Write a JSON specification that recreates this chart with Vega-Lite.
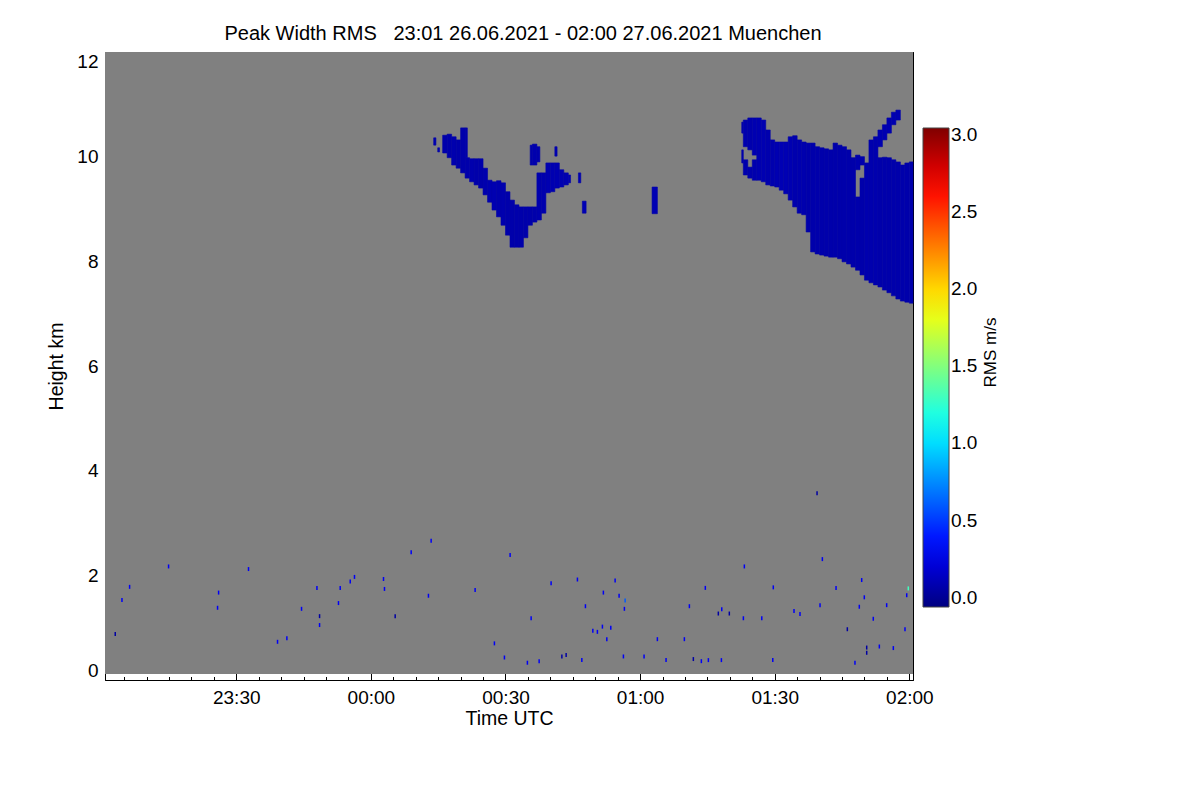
{
  "$schema": "https://vega.github.io/schema/vega-lite/v6.json",
  "autosize": "none",
  "padding": {"left": 105, "top": 52, "right": 287, "bottom": 120},
  "width": 808,
  "height": 628,
  "background": "white",
  "title": {
    "text": "Peak Width RMS\u00a0\u00a0\u00a023:01 26.06.2021 - 02:00 27.06.2021 Muenchen",
    "font": "Liberation Sans",
    "fontSize": 20,
    "fontWeight": "normal",
    "color": "black",
    "anchor": "middle",
    "offset": 8,
    "dx": 14
  },
  "config": {
    "font": "Liberation Sans",
    "view": {"stroke": null},
    "axis": {
      "grid": false,
      "domain": false,
      "domainColor": "black",
      "tickColor": "black",
      "labelFont": "Liberation Sans",
      "labelFontSize": 19,
      "labelColor": "black",
      "titleFont": "Liberation Sans",
      "titleFontSize": 19.5,
      "titleFontWeight": "normal",
      "titleColor": "black",
      "zindex": 1
    }
  },
  "layer": [
    {
      "data": {"values": [
        {"start": "2021-06-26T23:00:45Z", "end": "2021-06-27T02:00:49Z", "bottom": 0.115, "top": 12}
      ]},
      "mark": {"type": "rect", "color": "#808080"},
      "encoding": {
        "x": {
          "field": "start", "type": "temporal",
          "scale": {"type": "utc", "nice": false, "domain": [1624748445000, 1624759249000]},
          "axis": {
            "orient": "bottom",
            "title": "Time UTC",
            "domain": true,
            "values": [1624750200000, 1624752000000, 1624753800000, 1624755600000, 1624757400000, 1624759200000],
            "format": "%H:%M",
            "tickSize": -7,
            "labelPadding": 15,
            "titlePadding": 2
          }
        },
        "x2": {"field": "end"},
        "y": {
          "field": "bottom", "type": "quantitative",
          "scale": {"domain": [0, 12], "nice": false, "zero": false},
          "axis": {
            "orient": "left",
            "title": "Height km",
            "domain": true,
            "values": [0, 2, 4, 6, 8, 10, 12],
            "format": ".0f",
            "tickSize": -7,
            "labelFlush": true,
            "labelPadding": 14,
            "titlePadding": 10
          }
        },
        "y2": {"field": "top"}
      }
    },
    {
      "data": {"values": [
        {"start": "2021-06-27T00:14:00Z", "end": "2021-06-27T00:14:30Z", "bottom": 10.22, "top": 10.36, "rms": 0.09},
        {"start": "2021-06-27T00:14:54Z", "end": "2021-06-27T00:15:18Z", "bottom": 10.09, "top": 10.17, "rms": 0.09},
        {"start": "2021-06-27T00:16:00Z", "end": "2021-06-27T00:17:00Z", "bottom": 10.07, "top": 10.41, "rms": 0.07},
        {"start": "2021-06-27T00:17:00Z", "end": "2021-06-27T00:18:00Z", "bottom": 9.98, "top": 10.43, "rms": 0.07},
        {"start": "2021-06-27T00:18:00Z", "end": "2021-06-27T00:19:00Z", "bottom": 9.84, "top": 10.38, "rms": 0.08},
        {"start": "2021-06-27T00:19:00Z", "end": "2021-06-27T00:20:00Z", "bottom": 9.78, "top": 10.32, "rms": 0.07},
        {"start": "2021-06-27T00:20:00Z", "end": "2021-06-27T00:21:00Z", "bottom": 9.69, "top": 10.55, "rms": 0.07},
        {"start": "2021-06-27T00:21:00Z", "end": "2021-06-27T00:21:30Z", "bottom": 9.98, "top": 10.55, "rms": 0.07},
        {"start": "2021-06-27T00:21:00Z", "end": "2021-06-27T00:22:00Z", "bottom": 9.59, "top": 9.98, "rms": 0.07},
        {"start": "2021-06-27T00:22:00Z", "end": "2021-06-27T00:23:00Z", "bottom": 9.52, "top": 9.96, "rms": 0.08},
        {"start": "2021-06-27T00:23:00Z", "end": "2021-06-27T00:24:00Z", "bottom": 9.46, "top": 9.96, "rms": 0.07},
        {"start": "2021-06-27T00:24:00Z", "end": "2021-06-27T00:25:00Z", "bottom": 9.40, "top": 9.96, "rms": 0.07},
        {"start": "2021-06-27T00:25:00Z", "end": "2021-06-27T00:26:00Z", "bottom": 9.27, "top": 9.78, "rms": 0.08},
        {"start": "2021-06-27T00:26:00Z", "end": "2021-06-27T00:27:00Z", "bottom": 9.13, "top": 9.55, "rms": 0.09},
        {"start": "2021-06-27T00:27:00Z", "end": "2021-06-27T00:28:00Z", "bottom": 8.98, "top": 9.52, "rms": 0.09},
        {"start": "2021-06-27T00:28:00Z", "end": "2021-06-27T00:29:00Z", "bottom": 8.85, "top": 9.54, "rms": 0.08},
        {"start": "2021-06-27T00:29:00Z", "end": "2021-06-27T00:30:00Z", "bottom": 8.69, "top": 9.50, "rms": 0.08},
        {"start": "2021-06-27T00:30:00Z", "end": "2021-06-27T00:31:00Z", "bottom": 8.50, "top": 9.33, "rms": 0.07},
        {"start": "2021-06-27T00:31:00Z", "end": "2021-06-27T00:32:00Z", "bottom": 8.27, "top": 9.17, "rms": 0.07},
        {"start": "2021-06-27T00:32:00Z", "end": "2021-06-27T00:33:00Z", "bottom": 8.27, "top": 9.08, "rms": 0.07},
        {"start": "2021-06-27T00:33:00Z", "end": "2021-06-27T00:34:00Z", "bottom": 8.27, "top": 9.04, "rms": 0.07},
        {"start": "2021-06-27T00:34:00Z", "end": "2021-06-27T00:35:00Z", "bottom": 8.45, "top": 9.04, "rms": 0.07},
        {"start": "2021-06-27T00:35:00Z", "end": "2021-06-27T00:36:00Z", "bottom": 8.69, "top": 9.04, "rms": 0.07},
        {"start": "2021-06-27T00:35:30Z", "end": "2021-06-27T00:36:00Z", "bottom": 9.84, "top": 10.22, "rms": 0.08},
        {"start": "2021-06-27T00:36:00Z", "end": "2021-06-27T00:37:00Z", "bottom": 8.75, "top": 9.04, "rms": 0.07},
        {"start": "2021-06-27T00:36:00Z", "end": "2021-06-27T00:37:00Z", "bottom": 9.84, "top": 10.24, "rms": 0.08},
        {"start": "2021-06-27T00:37:00Z", "end": "2021-06-27T00:38:00Z", "bottom": 8.79, "top": 9.69, "rms": 0.08},
        {"start": "2021-06-27T00:37:00Z", "end": "2021-06-27T00:37:40Z", "bottom": 9.90, "top": 10.19, "rms": 0.08},
        {"start": "2021-06-27T00:38:00Z", "end": "2021-06-27T00:39:00Z", "bottom": 8.92, "top": 9.69, "rms": 0.08},
        {"start": "2021-06-27T00:39:00Z", "end": "2021-06-27T00:40:00Z", "bottom": 9.31, "top": 9.88, "rms": 0.09},
        {"start": "2021-06-27T00:40:00Z", "end": "2021-06-27T00:41:00Z", "bottom": 9.33, "top": 9.88, "rms": 0.09},
        {"start": "2021-06-27T00:41:00Z", "end": "2021-06-27T00:42:00Z", "bottom": 9.40, "top": 9.88, "rms": 0.09},
        {"start": "2021-06-27T00:41:00Z", "end": "2021-06-27T00:41:30Z", "bottom": 10.01, "top": 10.19, "rms": 0.09},
        {"start": "2021-06-27T00:42:00Z", "end": "2021-06-27T00:43:00Z", "bottom": 9.42, "top": 9.75, "rms": 0.09},
        {"start": "2021-06-27T00:43:00Z", "end": "2021-06-27T00:44:00Z", "bottom": 9.46, "top": 9.69, "rms": 0.09},
        {"start": "2021-06-27T00:44:00Z", "end": "2021-06-27T00:44:30Z", "bottom": 9.50, "top": 9.65, "rms": 0.09},
        {"start": "2021-06-27T00:46:15Z", "end": "2021-06-27T00:46:47Z", "bottom": 9.50, "top": 9.69, "rms": 0.1},
        {"start": "2021-06-27T00:47:08Z", "end": "2021-06-27T00:47:58Z", "bottom": 8.92, "top": 9.15, "rms": 0.1},
        {"start": "2021-06-27T01:02:40Z", "end": "2021-06-27T01:03:51Z", "bottom": 8.91, "top": 9.42, "rms": 0.1}
      ]},
      "mark": {"type": "rect", "stroke": "#0000aa", "strokeWidth": 0.6},
      "encoding": {
        "x": {
          "field": "start", "type": "temporal",
          "axis": {"orient": "top", "title": null, "labels": false, "domain": true,
                   "values": [1624750200000, 1624752000000, 1624753800000, 1624755600000, 1624757400000, 1624759200000],
                   "tickSize": -7}
        },
        "x2": {"field": "end"},
        "y": {
          "field": "bottom", "type": "quantitative",
          "axis": {"orient": "right", "title": "RMS m/s", "labels": false, "domain": true,
                   "values": [0, 2, 4, 6, 8, 10, 12], "tickSize": -7,
                   "titleAngle": 270, "titleBaseline": "top", "titleFontSize": 17,
                   "titlePadding": 69, "titleY": 300}
        },
        "y2": {"field": "top"},
        "color": {
          "field": "rms", "type": "quantitative",
          "scale": {
            "type": "linear",
            "domain": [-0.06, 3.045],
            "range": ["#000080", "#0000ff", "#0080ff", "#00ffff", "#80ff80", "#ffff00", "#ff8000", "#ff0000", "#800000"],
            "interpolate": "rgb",
            "clamp": true
          },
          "legend": {
            "orient": "none",
            "legendX": 818,
            "legendY": 76,
            "direction": "vertical",
            "gradientLength": 479,
            "gradientThickness": 26,
            "gradientStrokeColor": "#444444",
            "gradientStrokeWidth": 1,
            "values": [0, 0.5, 1, 1.5, 2, 2.5, 3],
            "format": ".1f",
            "labelFont": "Liberation Sans",
            "labelFontSize": 19,
            "labelColor": "black",
            "title": null
          }
        }
      }
    },
    {
      "data": {"values": [
        {"start": "2021-06-27T01:22:39Z", "end": "2021-06-27T01:23:00Z", "bottom": 10.45, "top": 10.66, "rms": 0.08},
        {"start": "2021-06-27T01:22:39Z", "end": "2021-06-27T01:23:00Z", "bottom": 9.88, "top": 10.13, "rms": 0.08},
        {"start": "2021-06-27T01:23:00Z", "end": "2021-06-27T01:24:00Z", "bottom": 10.19, "top": 10.70, "rms": 0.08},
        {"start": "2021-06-27T01:23:00Z", "end": "2021-06-27T01:24:00Z", "bottom": 9.65, "top": 9.94, "rms": 0.08},
        {"start": "2021-06-27T01:24:00Z", "end": "2021-06-27T01:25:00Z", "bottom": 10.13, "top": 10.74, "rms": 0.08},
        {"start": "2021-06-27T01:24:00Z", "end": "2021-06-27T01:25:00Z", "bottom": 9.59, "top": 9.80, "rms": 0.08},
        {"start": "2021-06-27T01:25:00Z", "end": "2021-06-27T01:26:00Z", "bottom": 10.03, "top": 10.74, "rms": 0.09},
        {"start": "2021-06-27T01:25:00Z", "end": "2021-06-27T01:26:00Z", "bottom": 9.55, "top": 9.94, "rms": 0.08},
        {"start": "2021-06-27T01:26:00Z", "end": "2021-06-27T01:27:00Z", "bottom": 9.55, "top": 10.74, "rms": 0.09},
        {"start": "2021-06-27T01:27:00Z", "end": "2021-06-27T01:28:00Z", "bottom": 9.52, "top": 10.70, "rms": 0.09},
        {"start": "2021-06-27T01:28:00Z", "end": "2021-06-27T01:29:00Z", "bottom": 9.46, "top": 10.51, "rms": 0.08},
        {"start": "2021-06-27T01:29:00Z", "end": "2021-06-27T01:30:00Z", "bottom": 9.44, "top": 10.32, "rms": 0.08},
        {"start": "2021-06-27T01:30:00Z", "end": "2021-06-27T01:31:00Z", "bottom": 9.42, "top": 10.28, "rms": 0.09},
        {"start": "2021-06-27T01:31:00Z", "end": "2021-06-27T01:32:00Z", "bottom": 9.36, "top": 10.28, "rms": 0.1},
        {"start": "2021-06-27T01:32:00Z", "end": "2021-06-27T01:33:00Z", "bottom": 9.29, "top": 10.28, "rms": 0.1},
        {"start": "2021-06-27T01:33:00Z", "end": "2021-06-27T01:34:00Z", "bottom": 9.17, "top": 10.38, "rms": 0.09},
        {"start": "2021-06-27T01:34:00Z", "end": "2021-06-27T01:35:00Z", "bottom": 9.04, "top": 10.40, "rms": 0.08},
        {"start": "2021-06-27T01:35:00Z", "end": "2021-06-27T01:36:00Z", "bottom": 8.92, "top": 10.32, "rms": 0.08},
        {"start": "2021-06-27T01:36:00Z", "end": "2021-06-27T01:37:00Z", "bottom": 8.89, "top": 10.28, "rms": 0.08},
        {"start": "2021-06-27T01:37:00Z", "end": "2021-06-27T01:38:00Z", "bottom": 8.56, "top": 10.26, "rms": 0.07},
        {"start": "2021-06-27T01:38:00Z", "end": "2021-06-27T01:39:00Z", "bottom": 8.18, "top": 10.26, "rms": 0.07},
        {"start": "2021-06-27T01:39:00Z", "end": "2021-06-27T01:40:00Z", "bottom": 8.14, "top": 10.19, "rms": 0.07},
        {"start": "2021-06-27T01:40:00Z", "end": "2021-06-27T01:41:00Z", "bottom": 8.12, "top": 10.17, "rms": 0.07},
        {"start": "2021-06-27T01:41:00Z", "end": "2021-06-27T01:42:00Z", "bottom": 8.10, "top": 10.15, "rms": 0.07},
        {"start": "2021-06-27T01:42:00Z", "end": "2021-06-27T01:43:00Z", "bottom": 8.08, "top": 10.13, "rms": 0.07},
        {"start": "2021-06-27T01:43:00Z", "end": "2021-06-27T01:44:00Z", "bottom": 8.08, "top": 10.26, "rms": 0.07},
        {"start": "2021-06-27T01:44:00Z", "end": "2021-06-27T01:45:00Z", "bottom": 8.05, "top": 10.22, "rms": 0.07},
        {"start": "2021-06-27T01:45:00Z", "end": "2021-06-27T01:46:00Z", "bottom": 7.99, "top": 10.19, "rms": 0.07},
        {"start": "2021-06-27T01:46:00Z", "end": "2021-06-27T01:47:00Z", "bottom": 7.95, "top": 10.13, "rms": 0.07},
        {"start": "2021-06-27T01:47:00Z", "end": "2021-06-27T01:48:00Z", "bottom": 7.89, "top": 9.98, "rms": 0.07},
        {"start": "2021-06-27T01:48:00Z", "end": "2021-06-27T01:49:00Z", "bottom": 9.75, "top": 10.03, "rms": 0.08},
        {"start": "2021-06-27T01:48:00Z", "end": "2021-06-27T01:49:00Z", "bottom": 7.83, "top": 9.23, "rms": 0.07},
        {"start": "2021-06-27T01:49:00Z", "end": "2021-06-27T01:50:00Z", "bottom": 9.84, "top": 10.00, "rms": 0.08},
        {"start": "2021-06-27T01:49:00Z", "end": "2021-06-27T01:50:00Z", "bottom": 7.74, "top": 9.59, "rms": 0.07},
        {"start": "2021-06-27T01:50:00Z", "end": "2021-06-27T01:51:00Z", "bottom": 7.64, "top": 9.88, "rms": 0.08},
        {"start": "2021-06-27T01:51:00Z", "end": "2021-06-27T01:52:00Z", "bottom": 7.59, "top": 10.32, "rms": 0.08},
        {"start": "2021-06-27T01:52:00Z", "end": "2021-06-27T01:53:00Z", "bottom": 7.55, "top": 10.38, "rms": 0.08},
        {"start": "2021-06-27T01:53:00Z", "end": "2021-06-27T01:54:00Z", "bottom": 10.19, "top": 10.51, "rms": 0.09},
        {"start": "2021-06-27T01:53:00Z", "end": "2021-06-27T01:54:00Z", "bottom": 7.51, "top": 9.98, "rms": 0.07},
        {"start": "2021-06-27T01:54:00Z", "end": "2021-06-27T01:55:00Z", "bottom": 10.32, "top": 10.61, "rms": 0.09},
        {"start": "2021-06-27T01:54:00Z", "end": "2021-06-27T01:55:00Z", "bottom": 7.45, "top": 9.99, "rms": 0.07},
        {"start": "2021-06-27T01:55:00Z", "end": "2021-06-27T01:56:00Z", "bottom": 10.45, "top": 10.74, "rms": 0.09},
        {"start": "2021-06-27T01:55:00Z", "end": "2021-06-27T01:56:00Z", "bottom": 7.40, "top": 9.98, "rms": 0.07},
        {"start": "2021-06-27T01:56:00Z", "end": "2021-06-27T01:57:00Z", "bottom": 10.61, "top": 10.85, "rms": 0.09},
        {"start": "2021-06-27T01:56:00Z", "end": "2021-06-27T01:57:00Z", "bottom": 7.34, "top": 9.94, "rms": 0.07},
        {"start": "2021-06-27T01:57:00Z", "end": "2021-06-27T01:58:00Z", "bottom": 10.70, "top": 10.89, "rms": 0.09},
        {"start": "2021-06-27T01:57:00Z", "end": "2021-06-27T01:58:00Z", "bottom": 7.28, "top": 9.90, "rms": 0.07},
        {"start": "2021-06-27T01:58:00Z", "end": "2021-06-27T01:59:00Z", "bottom": 7.24, "top": 9.84, "rms": 0.07},
        {"start": "2021-06-27T01:59:00Z", "end": "2021-06-27T02:00:00Z", "bottom": 7.22, "top": 9.88, "rms": 0.07},
        {"start": "2021-06-27T02:00:00Z", "end": "2021-06-27T02:00:49Z", "bottom": 7.20, "top": 9.90, "rms": 0.08}
      ]},
      "mark": {"type": "rect", "stroke": "#0000aa", "strokeWidth": 0.6},
      "encoding": {
        "x": {
          "field": "start", "type": "temporal",
          "axis": {"orient": "bottom", "title": null, "labels": false,
                   "values": [1624748700000, 1624749000000, 1624749300000, 1624749600000, 1624749900000, 1624750200000,
                              1624750500000, 1624750800000, 1624751100000, 1624751400000, 1624751700000, 1624752000000,
                              1624752300000, 1624752600000, 1624752900000, 1624753200000, 1624753500000, 1624753800000,
                              1624754100000, 1624754400000, 1624754700000, 1624755000000, 1624755300000, 1624755600000,
                              1624755900000, 1624756200000, 1624756500000, 1624756800000, 1624757100000, 1624757400000,
                              1624757700000, 1624758000000, 1624758300000, 1624758600000, 1624758900000, 1624759200000],
                   "tickSize": -3.5}
        },
        "x2": {"field": "end"},
        "y": {
          "field": "bottom", "type": "quantitative",
          "axis": {"orient": "left", "title": null, "labels": false,
                   "values": [0, 0.5, 1, 1.5, 2, 2.5, 3, 3.5, 4, 4.5, 5, 5.5, 6, 6.5, 7, 7.5, 8, 8.5, 9, 9.5, 10, 10.5, 11, 11.5, 12],
                   "tickSize": -3.5}
        },
        "y2": {"field": "top"},
        "color": {"field": "rms", "type": "quantitative"}
      }
    },
    {
      "data": {"values": [
        {"time": "2021-06-26T23:03:02Z", "height": 0.88, "rms": 0.05},
        {"time": "2021-06-26T23:04:32Z", "height": 1.53, "rms": 0.3},
        {"time": "2021-06-26T23:06:14Z", "height": 1.78, "rms": 0.3},
        {"time": "2021-06-26T23:14:55Z", "height": 2.17, "rms": 0.3},
        {"time": "2021-06-26T23:26:04Z", "height": 1.67, "rms": 0.3},
        {"time": "2021-06-26T23:25:50Z", "height": 1.38, "rms": 0.3},
        {"time": "2021-06-26T23:32:44Z", "height": 2.12, "rms": 0.3},
        {"time": "2021-06-26T23:39:12Z", "height": 0.73, "rms": 0.3},
        {"time": "2021-06-26T23:41:17Z", "height": 0.80, "rms": 0.3},
        {"time": "2021-06-26T23:44:33Z", "height": 1.36, "rms": 0.3},
        {"time": "2021-06-26T23:47:59Z", "height": 1.76, "rms": 0.3},
        {"time": "2021-06-26T23:48:34Z", "height": 1.22, "rms": 0.05},
        {"time": "2021-06-26T23:48:34Z", "height": 1.05, "rms": 0.3},
        {"time": "2021-06-26T23:53:10Z", "height": 1.76, "rms": 0.3},
        {"time": "2021-06-26T23:52:47Z", "height": 1.47, "rms": 0.3},
        {"time": "2021-06-26T23:55:24Z", "height": 1.88, "rms": 0.3},
        {"time": "2021-06-26T23:56:21Z", "height": 1.97, "rms": 0.3},
        {"time": "2021-06-27T00:02:49Z", "height": 1.93, "rms": 0.3},
        {"time": "2021-06-27T00:03:02Z", "height": 1.74, "rms": 0.3},
        {"time": "2021-06-27T00:05:25Z", "height": 1.22, "rms": 0.05},
        {"time": "2021-06-27T00:08:59Z", "height": 2.44, "rms": 0.3},
        {"time": "2021-06-27T00:12:50Z", "height": 1.61, "rms": 0.3},
        {"time": "2021-06-27T00:13:26Z", "height": 2.66, "rms": 0.3},
        {"time": "2021-06-27T00:23:14Z", "height": 1.72, "rms": 0.3},
        {"time": "2021-06-27T00:27:32Z", "height": 0.70, "rms": 0.3},
        {"time": "2021-06-27T00:29:46Z", "height": 0.43, "rms": 0.3},
        {"time": "2021-06-27T00:31:02Z", "height": 2.39, "rms": 0.3},
        {"time": "2021-06-27T00:34:53Z", "height": 0.33, "rms": 0.3},
        {"time": "2021-06-27T00:35:43Z", "height": 1.18, "rms": 0.3},
        {"time": "2021-06-27T00:37:30Z", "height": 0.36, "rms": 0.3},
        {"time": "2021-06-27T00:40:10Z", "height": 1.85, "rms": 0.3},
        {"time": "2021-06-27T00:42:34Z", "height": 0.45, "rms": 0.05},
        {"time": "2021-06-27T00:43:31Z", "height": 0.48, "rms": 0.05},
        {"time": "2021-06-27T00:46:02Z", "height": 1.92, "rms": 0.3},
        {"time": "2021-06-27T00:47:01Z", "height": 0.38, "rms": 0.3},
        {"time": "2021-06-27T00:47:49Z", "height": 1.41, "rms": 0.3},
        {"time": "2021-06-27T00:49:28Z", "height": 0.94, "rms": 0.3},
        {"time": "2021-06-27T00:50:29Z", "height": 0.92, "rms": 0.3},
        {"time": "2021-06-27T00:51:49Z", "height": 1.67, "rms": 0.3},
        {"time": "2021-06-27T00:51:36Z", "height": 1.02, "rms": 0.3},
        {"time": "2021-06-27T00:53:28Z", "height": 1.00, "rms": 0.3},
        {"time": "2021-06-27T00:52:35Z", "height": 0.78, "rms": 0.3},
        {"time": "2021-06-27T00:54:26Z", "height": 1.90, "rms": 0.3},
        {"time": "2021-06-27T00:55:19Z", "height": 1.61, "rms": 0.3},
        {"time": "2021-06-27T00:56:30Z", "height": 1.36, "rms": 0.3},
        {"time": "2021-06-27T00:56:40Z", "height": 1.52, "rms": 0.6},
        {"time": "2021-06-27T00:56:17Z", "height": 0.45, "rms": 0.3},
        {"time": "2021-06-27T01:00:53Z", "height": 0.45, "rms": 0.3},
        {"time": "2021-06-27T01:03:51Z", "height": 0.78, "rms": 0.3},
        {"time": "2021-06-27T01:05:47Z", "height": 0.38, "rms": 0.3},
        {"time": "2021-06-27T01:09:52Z", "height": 0.78, "rms": 0.3},
        {"time": "2021-06-27T01:10:59Z", "height": 1.41, "rms": 0.3},
        {"time": "2021-06-27T01:11:52Z", "height": 0.40, "rms": 0.05},
        {"time": "2021-06-27T01:13:39Z", "height": 0.36, "rms": 0.3},
        {"time": "2021-06-27T01:15:13Z", "height": 0.38, "rms": 0.3},
        {"time": "2021-06-27T01:14:32Z", "height": 1.76, "rms": 0.3},
        {"time": "2021-06-27T01:17:26Z", "height": 1.27, "rms": 0.05},
        {"time": "2021-06-27T01:18:12Z", "height": 1.35, "rms": 0.3},
        {"time": "2021-06-27T01:18:07Z", "height": 0.38, "rms": 0.3},
        {"time": "2021-06-27T01:19:53Z", "height": 1.27, "rms": 0.05},
        {"time": "2021-06-27T01:23:01Z", "height": 1.18, "rms": 0.3},
        {"time": "2021-06-27T01:23:14Z", "height": 2.17, "rms": 0.3},
        {"time": "2021-06-27T01:27:07Z", "height": 1.18, "rms": 0.3},
        {"time": "2021-06-27T01:29:34Z", "height": 0.38, "rms": 0.3},
        {"time": "2021-06-27T01:29:41Z", "height": 1.77, "rms": 0.3},
        {"time": "2021-06-27T01:34:18Z", "height": 1.32, "rms": 0.3},
        {"time": "2021-06-27T01:35:38Z", "height": 1.26, "rms": 0.3},
        {"time": "2021-06-27T01:40:06Z", "height": 1.43, "rms": 0.3},
        {"time": "2021-06-27T01:40:37Z", "height": 2.31, "rms": 0.3},
        {"time": "2021-06-27T01:39:26Z", "height": 3.57, "rms": 0.05},
        {"time": "2021-06-27T01:43:40Z", "height": 1.76, "rms": 0.3},
        {"time": "2021-06-27T01:46:11Z", "height": 0.97, "rms": 0.05},
        {"time": "2021-06-27T01:47:53Z", "height": 0.33, "rms": 0.3},
        {"time": "2021-06-27T01:49:23Z", "height": 1.91, "rms": 0.3},
        {"time": "2021-06-27T01:48:51Z", "height": 1.40, "rms": 0.3},
        {"time": "2021-06-27T01:49:58Z", "height": 1.58, "rms": 0.3},
        {"time": "2021-06-27T01:50:30Z", "height": 0.52, "rms": 0.05},
        {"time": "2021-06-27T01:50:30Z", "height": 0.62, "rms": 0.05},
        {"time": "2021-06-27T01:51:58Z", "height": 1.17, "rms": 0.3},
        {"time": "2021-06-27T01:53:19Z", "height": 0.64, "rms": 0.3},
        {"time": "2021-06-27T01:54:57Z", "height": 1.43, "rms": 0.3},
        {"time": "2021-06-27T01:56:26Z", "height": 0.61, "rms": 0.3},
        {"time": "2021-06-27T01:59:02Z", "height": 0.97, "rms": 0.3},
        {"time": "2021-06-27T01:59:25Z", "height": 1.62, "rms": 0.3},
        {"time": "2021-06-27T01:59:46Z", "height": 1.75, "rms": 1.3}
      ]},
      "mark": {"type": "tick", "orient": "vertical", "size": 4, "thickness": 1.5, "opacity": 1},
      "encoding": {
        "x": {
          "field": "time", "type": "temporal",
          "axis": {"orient": "top", "title": null, "labels": false,
                   "values": [1624748700000, 1624749000000, 1624749300000, 1624749600000, 1624749900000, 1624750200000,
                              1624750500000, 1624750800000, 1624751100000, 1624751400000, 1624751700000, 1624752000000,
                              1624752300000, 1624752600000, 1624752900000, 1624753200000, 1624753500000, 1624753800000,
                              1624754100000, 1624754400000, 1624754700000, 1624755000000, 1624755300000, 1624755600000,
                              1624755900000, 1624756200000, 1624756500000, 1624756800000, 1624757100000, 1624757400000,
                              1624757700000, 1624758000000, 1624758300000, 1624758600000, 1624758900000, 1624759200000],
                   "tickSize": -3.5}
        },
        "y": {
          "field": "height", "type": "quantitative",
          "axis": {"orient": "right", "title": null, "labels": false,
                   "values": [0, 0.5, 1, 1.5, 2, 2.5, 3, 3.5, 4, 4.5, 5, 5.5, 6, 6.5, 7, 7.5, 8, 8.5, 9, 9.5, 10, 10.5, 11, 11.5, 12],
                   "tickSize": -3.5}
        },
        "color": {"field": "rms", "type": "quantitative"}
      }
    }
  ],
  "resolve": {"axis": {"x": "independent", "y": "independent"}}
}
